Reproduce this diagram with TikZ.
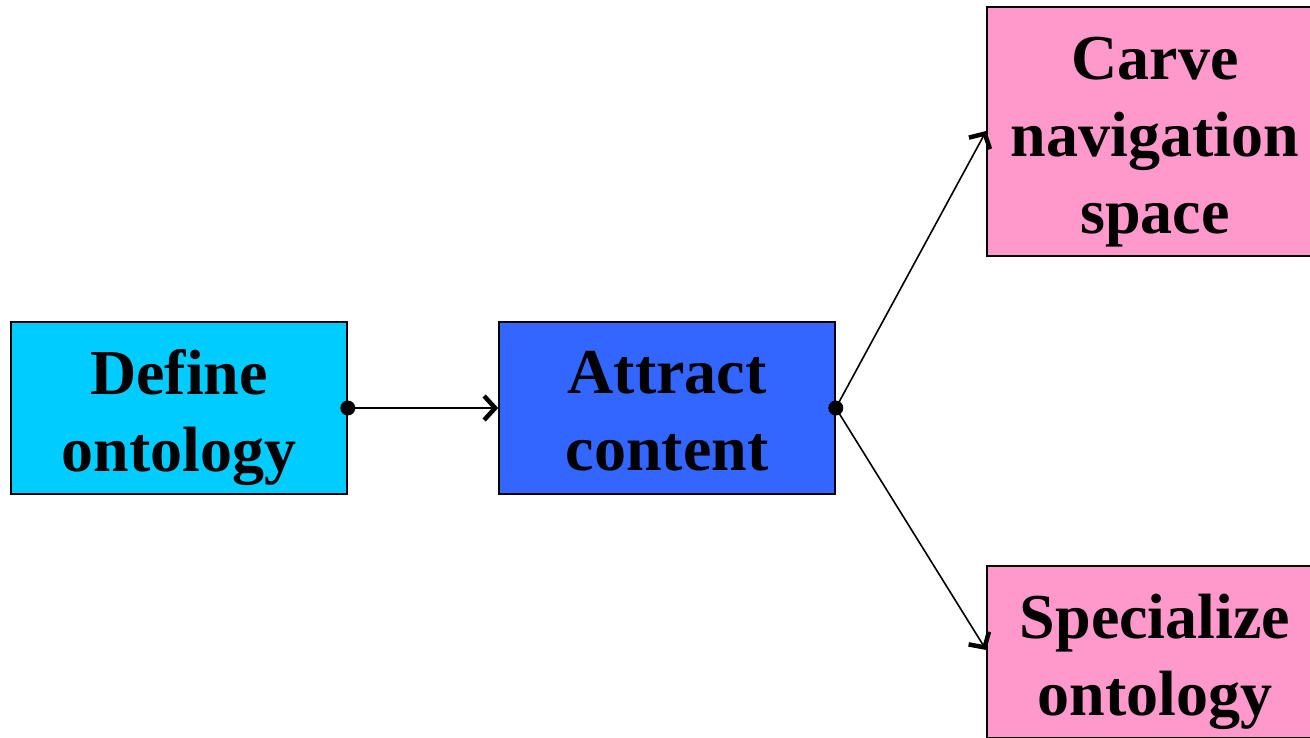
\documentclass[tikz,border=0pt]{standalone}
\usepackage{fontspec}
\setmainfont{Liberation Serif}
\usetikzlibrary{arrows.meta}
\definecolor{skyfill}{HTML}{00CCFF}
\definecolor{royalfill}{HTML}{3366FF}
\definecolor{pinkfill}{HTML}{FF99CC}
\tikzset{
  stepbox/.style={draw=black, line width=1.6pt, rectangle, inner sep=0pt,
    minimum width=336pt, minimum height=172pt},
  tallbox/.style={stepbox, minimum height=249pt},
  caption/.style={align=center, inner sep=0pt,
    font=\fontsize{64}{77}\selectfont\bfseries},
  link/.style={line width=1.6pt, -{Straight Barb[length=11pt, width=24pt, line width=4.5pt]}},
  joint/.style={circle, fill=black, inner sep=0pt, minimum size=15pt}
}
\begin{document}
\begin{tikzpicture}[x=1pt, y=-1pt]
\useasboundingbox (0,0) rectangle (1310,738);
\clip (0,0) rectangle (1310,738);
\fill[white] (0,0) rectangle (1310,738);

% process boxes
\node[stepbox, fill=skyfill] (define) at (179,408) {};
\node[stepbox, fill=royalfill] (attract) at (667,408) {};
\node[tallbox, fill=pinkfill] (carve) at (1155,131.5) {};
\node[stepbox, fill=pinkfill] (special) at (1155,652) {};

% box captions (last line padded to a common descender depth)
\node[caption] (tdefine) at ([yshift=-10pt]define.center) {Define\\ontology};
\node[caption] (tattract) at ([yshift=-10pt]attract.center) {Attract\\content\vphantom{gy}};
\node[caption] (tcarve) at ([yshift=-11pt]carve.center) {Carve\\navigation\\space};
\node[caption] (tspecial) at ([yshift=-10pt]special.center) {Specialize\\ontology};

% connection points
\node[joint] (d1) at (define.east) {};
\node[joint] (d2) at (attract.east) {};
\coordinate (c1) at ([yshift=0.5pt]carve.west);
\coordinate (s1) at ([yshift=2pt]special.west);

\draw[link] (d1.center) -- (attract.west);
\draw[link] (d2.center) -- (c1);
\draw[link] (d2.center) -- (s1);
\end{tikzpicture}
\end{document}
